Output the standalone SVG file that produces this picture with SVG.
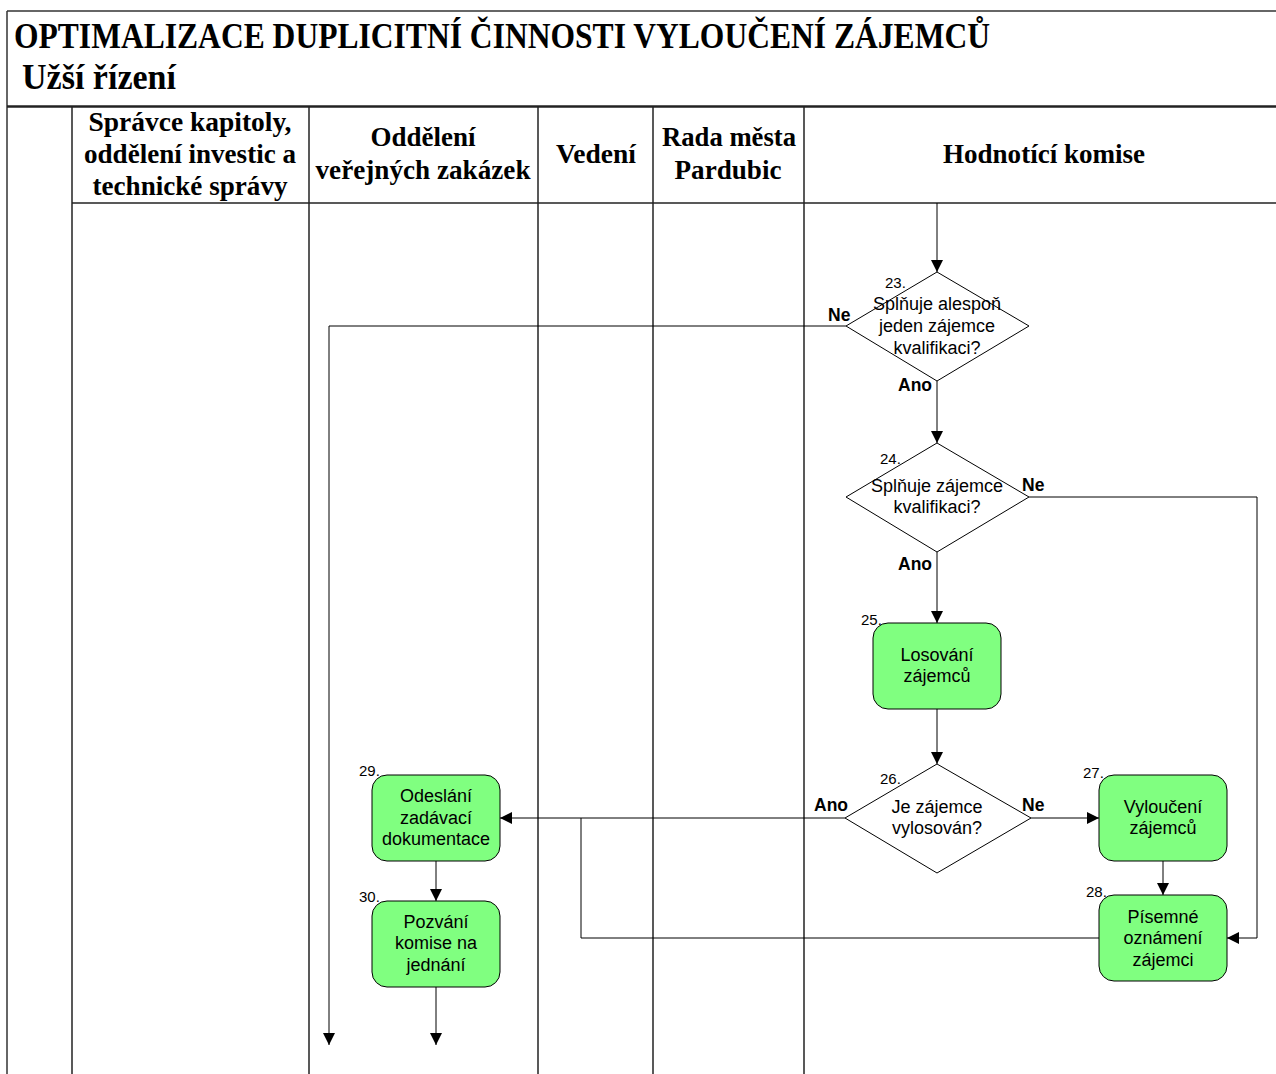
<svg xmlns="http://www.w3.org/2000/svg" width="1276" height="1074" viewBox="0 0 1276 1074">
  <style>
    .lane { stroke: #222; stroke-width: 1.5; fill: none; }
    .frame { stroke: #333; stroke-width: 1.5; fill: none; }
    .title { font-family: "Liberation Serif", "Times New Roman", serif; font-weight: bold; fill: #000; }
    .head { font-family: "Liberation Serif", "Times New Roman", serif; font-weight: bold; font-size: 28px; fill: #000; text-anchor: middle; }
    .box { fill: #80FF80; stroke: #000; stroke-width: 1; }
    .dia { fill: #fff; stroke: #000; stroke-width: 1; }
    .txt { font-family: "Liberation Sans", Arial, sans-serif; font-size: 18px; fill: #000; text-anchor: middle; }
    .num { font-family: "Liberation Sans", Arial, sans-serif; font-size: 15px; fill: #000; }
    .lbl { font-family: "Liberation Sans", Arial, sans-serif; font-size: 17.5px; font-weight: bold; fill: #000; }
    .con { stroke: #000; stroke-width: 1; fill: none; }
  </style>
  <defs>
    <marker id="arrow" viewBox="0 0 12 12" refX="12" refY="6" markerWidth="12" markerHeight="12" markerUnits="userSpaceOnUse" orient="auto">
      <path d="M0,0 L12,6 L0,12 Z" fill="#000"/>
    </marker>
  </defs>
  <rect width="1276" height="1074" fill="#fff"/>

  <!-- frame and swimlanes -->
  <g id="frame">
    <line class="frame" x1="7" y1="11" x2="1276" y2="11"/>
    <line class="frame" x1="7" y1="11" x2="7" y2="1074"/>
    <line x1="7" y1="106.5" x2="1276" y2="106.5" stroke="#222" stroke-width="2.5"/>
    <line class="lane" x1="72" y1="203" x2="1276" y2="203"/>
    <line class="lane" x1="72" y1="106" x2="72" y2="1074"/>
    <line class="lane" x1="309" y1="106" x2="309" y2="1074"/>
    <line class="lane" x1="538" y1="106" x2="538" y2="1074"/>
    <line class="lane" x1="653" y1="106" x2="653" y2="1074"/>
    <line class="lane" x1="804" y1="106" x2="804" y2="1074"/>
    <text class="title" x="14" y="48" font-size="35" textLength="976" lengthAdjust="spacingAndGlyphs">OPTIMALIZACE DUPLICITNÍ ČINNOSTI VYLOUČENÍ ZÁJEMCŮ</text>
    <text class="title" x="22" y="89" font-size="35" textLength="154" lengthAdjust="spacingAndGlyphs">Užší řízení</text>
    <text class="head" x="190" y="131" textLength="203" lengthAdjust="spacingAndGlyphs">Správce kapitoly,</text>
    <text class="head" x="190" y="163" textLength="212" lengthAdjust="spacingAndGlyphs">oddělení investic a</text>
    <text class="head" x="190" y="195" textLength="195" lengthAdjust="spacingAndGlyphs">technické správy</text>
    <text class="head" x="423" y="146" textLength="105" lengthAdjust="spacingAndGlyphs">Oddělení</text>
    <text class="head" x="423" y="179" textLength="215" lengthAdjust="spacingAndGlyphs">veřejných zakázek</text>
    <text class="head" x="596" y="163" textLength="80" lengthAdjust="spacingAndGlyphs">Vedení</text>
    <text class="head" x="729" y="146" textLength="134" lengthAdjust="spacingAndGlyphs">Rada města</text>
    <text class="head" x="728" y="179" textLength="107" lengthAdjust="spacingAndGlyphs">Pardubic</text>
    <text class="head" x="1044" y="163" textLength="202" lengthAdjust="spacingAndGlyphs">Hodnotící komise</text>
  </g>

  <!-- connectors -->
  <g id="connectors">
    <line class="con" x1="937" y1="203" x2="937" y2="272" marker-end="url(#arrow)"/>
    <polyline class="con" points="846,326 329,326 329,1045" marker-end="url(#arrow)"/>
    <line class="con" x1="937" y1="381" x2="937" y2="443" marker-end="url(#arrow)"/>
    <polyline class="con" points="1029,497 1257,497 1257,938 1227,938" marker-end="url(#arrow)"/>
    <line class="con" x1="937" y1="552" x2="937" y2="623" marker-end="url(#arrow)"/>
    <line class="con" x1="937" y1="709" x2="937" y2="764" marker-end="url(#arrow)"/>
    <line class="con" x1="845" y1="818" x2="500" y2="818" marker-end="url(#arrow)"/>
    <line class="con" x1="1031" y1="818" x2="1099" y2="818" marker-end="url(#arrow)"/>
    <line class="con" x1="1163" y1="861" x2="1163" y2="895" marker-end="url(#arrow)"/>
    <polyline class="con" points="1099,938 581,938 581,818"/>
    <line class="con" x1="436" y1="861" x2="436" y2="901" marker-end="url(#arrow)"/>
    <line class="con" x1="436" y1="987" x2="436" y2="1045" marker-end="url(#arrow)"/>
    <text class="lbl" x="828" y="321">Ne</text>
    <text class="lbl" x="898" y="391">Ano</text>
    <text class="lbl" x="1022" y="491">Ne</text>
    <text class="lbl" x="898" y="570">Ano</text>
    <text class="lbl" x="814" y="811">Ano</text>
    <text class="lbl" x="1022" y="811">Ne</text>
  </g>

  <!-- decisions -->
  <g id="n23">
    <polygon class="dia" points="937,272 1029,326 937,381 846,326"/>
    <text class="num" x="885" y="288">23.</text>
    <text class="txt" x="937" y="310">Splňuje alespoň</text>
    <text class="txt" x="937" y="332">jeden zájemce</text>
    <text class="txt" x="937" y="354">kvalifikaci?</text>
  </g>
  <g id="n24">
    <polygon class="dia" points="937,443 1029,497 937,552 846,497"/>
    <text class="num" x="880" y="464">24.</text>
    <text class="txt" x="937" y="492">Splňuje zájemce</text>
    <text class="txt" x="937" y="513">kvalifikaci?</text>
  </g>
  <g id="n26">
    <polygon class="dia" points="937,764 1031,818 937,873 845,818"/>
    <text class="num" x="880" y="784">26.</text>
    <text class="txt" x="937" y="813">Je zájemce</text>
    <text class="txt" x="937" y="834">vylosován?</text>
  </g>

  <!-- activities -->
  <g id="n25">
    <rect class="box" x="873" y="623" width="128" height="86" rx="15"/>
    <text class="num" x="861" y="625">25.</text>
    <text class="txt" x="937" y="661">Losování</text>
    <text class="txt" x="937" y="682">zájemců</text>
  </g>
  <g id="n27">
    <rect class="box" x="1099" y="775" width="128" height="86" rx="15"/>
    <text class="num" x="1083" y="778">27.</text>
    <text class="txt" x="1163" y="813">Vyloučení</text>
    <text class="txt" x="1163" y="834">zájemců</text>
  </g>
  <g id="n28">
    <rect class="box" x="1099" y="895" width="128" height="86" rx="15"/>
    <text class="num" x="1086" y="897">28.</text>
    <text class="txt" x="1163" y="923">Písemné</text>
    <text class="txt" x="1163" y="944">oznámení</text>
    <text class="txt" x="1163" y="966">zájemci</text>
  </g>
  <g id="n29">
    <rect class="box" x="372" y="775" width="128" height="86" rx="15"/>
    <text class="num" x="359" y="776">29.</text>
    <text class="txt" x="436" y="802">Odeslání</text>
    <text class="txt" x="436" y="824">zadávací</text>
    <text class="txt" x="436" y="845">dokumentace</text>
  </g>
  <g id="n30">
    <rect class="box" x="372" y="901" width="128" height="86" rx="15"/>
    <text class="num" x="359" y="902">30.</text>
    <text class="txt" x="436" y="928">Pozvání</text>
    <text class="txt" x="436" y="949">komise na</text>
    <text class="txt" x="436" y="971">jednání</text>
  </g>
</svg>
